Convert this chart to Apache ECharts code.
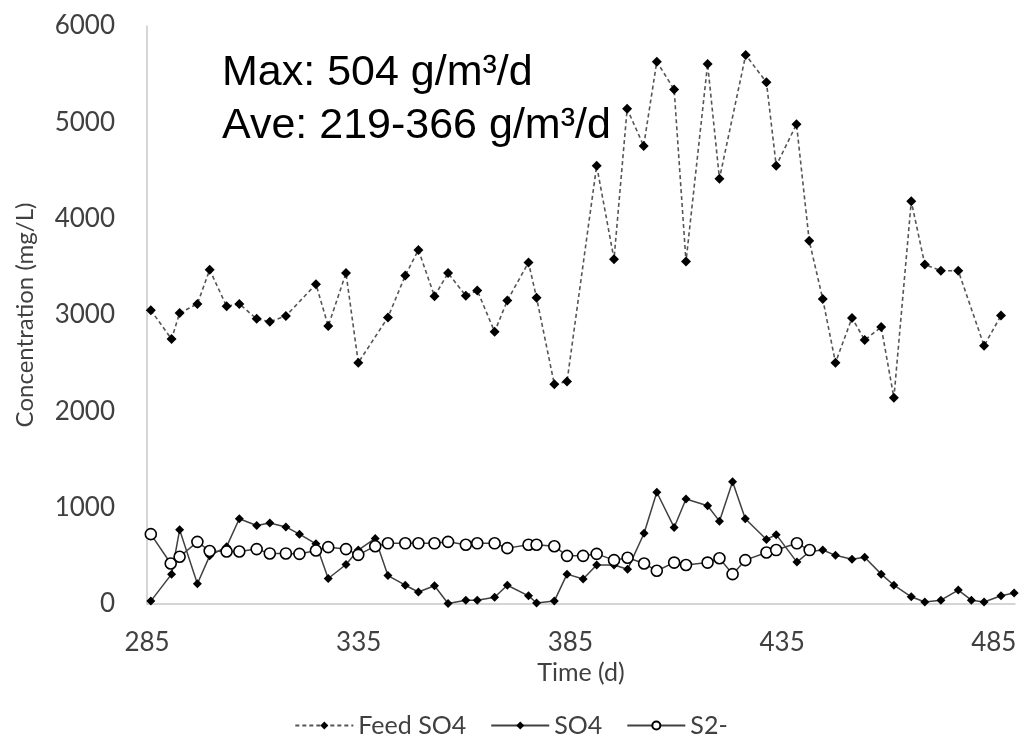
<!DOCTYPE html>
<html>
<head>
<meta charset="utf-8">
<script src="https://cdn.jsdelivr.net/npm/echarts@6/dist/echarts.min.js"></script>
<style>
  html, body { margin: 0; padding: 0; background: #fff; }
  #chart1 { width: 1022px; height: 750px; }
</style>
</head>
<body>
<div id="chart1"></div>
<script>
// Feed SO4 (mg/L)
var feedDays = [285.9, 290.8, 292.7, 296.9, 299.8, 303.8, 306.8, 310.9, 314.0, 317.8, 324.9, 327.8, 332.0, 334.9,
    341.9, 346.0, 349.1, 352.9, 356.1, 360.3, 363.0, 367.1, 370.1, 375.1, 377.0, 381.2, 384.2, 391.2, 395.3,
    398.4, 402.3, 405.4, 409.5, 412.3, 417.4, 420.2, 426.4, 431.3, 433.6, 438.4, 441.4, 444.6, 447.6, 451.5,
    454.5, 458.4, 461.4, 465.5, 468.7, 472.5, 476.6, 482.7, 486.7];
var feedVals = [3050, 2750, 3020, 3115, 3470, 3090, 3115, 2960, 2930, 2990, 3320, 2885, 3435, 2505,
    2975, 3410, 3675, 3195, 3435, 3200, 3255, 2825, 3150, 3545, 3180, 2280, 2310, 4550, 3580,
    5140, 4755, 5630, 5340, 3555, 5605, 4415, 5700, 5415, 4550, 4980, 3770, 3165, 2505, 2970,
    2740, 2875, 2140, 4180, 3525, 3460, 3460, 2680, 2995];

// SO4 in reactor
var so4Days = [285.9, 290.8, 292.7, 296.9, 299.8, 303.8, 306.8, 310.9, 314.0, 317.8, 321.0, 324.9, 327.8, 332.0,
    334.9, 338.9, 341.9, 346.0, 349.1, 352.9, 356.1, 360.3, 363.0, 367.1, 370.1, 375.1, 377.0, 381.2, 384.2,
    388.0, 391.2, 395.3, 398.5, 402.4, 405.4, 409.5, 412.3, 417.4, 420.2, 423.3, 426.3, 431.3, 433.6, 438.5,
    441.5, 444.6, 447.6, 451.5, 454.5, 458.4, 461.4, 465.5, 468.7, 472.5, 476.6, 479.7, 482.7, 486.7, 489.8];
var so4Vals = [30, 310, 770, 210, 500, 595, 885, 815, 840, 800, 725, 625, 265, 410,
    560, 680, 295, 195, 125, 190, 5, 40, 40, 70, 195, 85, 10, 30, 310,
    260, 405, 405, 360, 735, 1160, 795, 1090, 1020, 860, 1270, 885, 670, 720, 435,
    545, 560, 505, 465, 485, 310, 195, 75, 20, 40, 145, 40, 20, 85, 115];

// S2-
var s2Days = [285.9, 290.6, 292.7, 296.9, 299.8, 303.8, 306.8, 310.9, 314.0, 317.8, 321.0, 324.9, 327.8, 332.0,
    334.9, 338.9, 341.9, 346.0, 349.1, 352.9, 356.1, 360.3, 363.0, 367.1, 370.1, 375.1, 377.0, 381.2, 384.2,
    388.0, 391.2, 395.3, 398.5, 402.4, 405.4, 409.5, 412.3, 417.4, 420.2, 423.3, 426.3, 431.3, 433.6, 438.5, 441.5];
var s2Vals = [725, 420, 490, 645, 550, 545, 545, 570, 525, 525, 520, 555, 590, 570,
    510, 600, 630, 630, 630, 630, 645, 615, 630, 630, 580, 615, 615, 600, 500,
    500, 520, 455, 480, 420, 345, 430, 405, 430, 475, 310, 455, 535, 560, 630, 560];

var seriesNames = ['Feed SO4', 'SO4', 'S2-'];

function pairs(xs, ys) {
    var out = [];
    for (var i = 0; i < xs.length; i++) out.push([xs[i], ys[i]]);
    return out;
}

var myChart = echarts.init(document.getElementById('chart1'));

var labelFont = 'Lato, "Open Sans", sans-serif';

var option = {
    animation: false,
    backgroundColor: '#fff',
    grid: { left: 147, right: 7, top: 26, bottom: 146 },
    legend: {
        bottom: 7,
        left: 'center',
        itemWidth: 58,
        itemHeight: 10,
        itemGap: 24,
        textStyle: { fontFamily: labelFont, fontSize: 25, color: '#404040' },
        data: seriesNames
    },
    xAxis: {
        type: 'value',
        min: 285,
        max: 490,
        interval: 50,
        name: 'Time (d)',
        nameLocation: 'middle',
        nameGap: 48,
        nameTextStyle: { fontFamily: labelFont, fontSize: 25, color: '#404040' },
        axisLine: { show: true, lineStyle: { color: '#c8c8c8', width: 1.5 } },
        axisTick: { show: false },
        splitLine: { show: false },
        axisLabel: { fontFamily: labelFont, fontSize: 26, color: '#404040', margin: 26 }
    },
    yAxis: {
        type: 'value',
        min: 0,
        max: 6000,
        interval: 1000,
        name: 'Concentration (mg/L)',
        nameLocation: 'middle',
        nameGap: 110,
        nameRotate: 90,
        nameTextStyle: { fontFamily: labelFont, fontSize: 24, color: '#404040' },
        axisLine: { show: true, lineStyle: { color: '#c8c8c8', width: 1.5 } },
        axisTick: { show: false },
        splitLine: { show: false },
        axisLabel: {
            fontFamily: labelFont, fontSize: 26, color: '#404040', margin: 32,
            formatter: function (v) { return String(v); }
        }
    },
    series: [
        {
            name: seriesNames[0],
            type: 'line',
            data: pairs(feedDays, feedVals),
            symbol: 'diamond',
            symbolSize: [10, 10],
            itemStyle: { color: '#000' },
            lineStyle: { color: '#555', width: 1.6, type: [4, 3] }
        },
        {
            name: seriesNames[1],
            type: 'line',
            data: pairs(so4Days, so4Vals),
            symbol: 'diamond',
            symbolSize: [9, 9],
            itemStyle: { color: '#000' },
            lineStyle: { color: '#404040', width: 1.5 }
        },
        {
            name: seriesNames[2],
            type: 'line',
            data: pairs(s2Days, s2Vals),
            symbol: 'circle',
            symbolSize: 11,
            itemStyle: { color: '#fff', borderColor: '#000', borderWidth: 1.6 },
            lineStyle: { color: '#404040', width: 1.5 }
        }
    ],
    graphic: [
        {
            type: 'text',
            left: 222,
            top: 52,
            style: { text: 'Max: 504 g/m³/d', font: '43px "Liberation Sans", Arial, sans-serif', fill: '#000' }
        },
        {
            type: 'text',
            left: 222,
            top: 105,
            style: { text: 'Ave: 219-366 g/m³/d', font: '43px "Liberation Sans", Arial, sans-serif', fill: '#000' }
        }
    ]
};

myChart.setOption(option);
</script>
</body>
</html>
